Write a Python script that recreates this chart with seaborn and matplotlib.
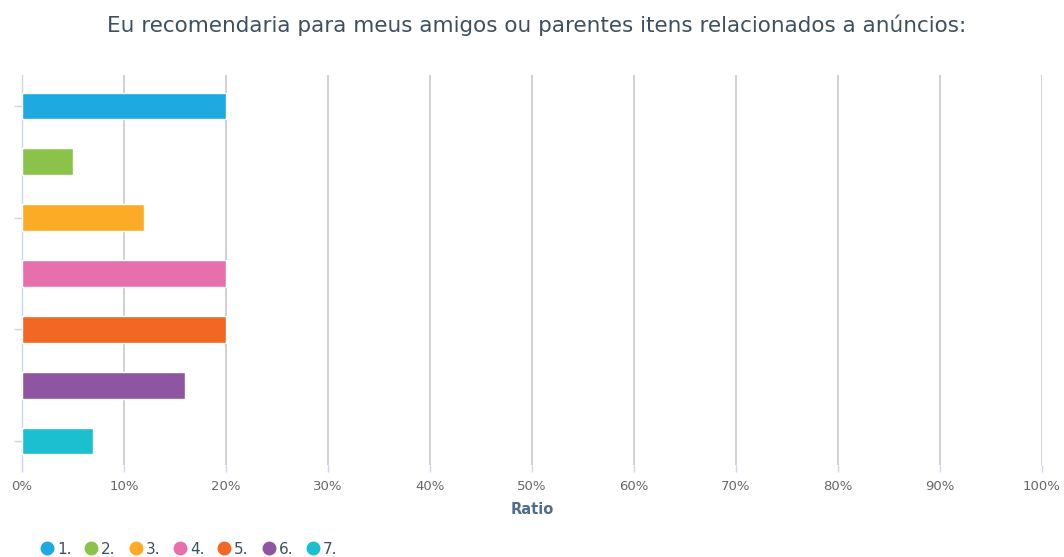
import matplotlib
matplotlib.use("Agg")
import matplotlib.pyplot as plt
import seaborn as sns
import pandas as pd
from matplotlib.lines import Line2D
from matplotlib.ticker import FuncFormatter

categories = ["1.", "2.", "3.", "4.", "5.", "6.", "7."]
values = [20, 5, 12, 20, 20, 16, 7]
colors = ["#1fa9e1", "#8bc34a", "#fbab25", "#e76fab", "#f26724", "#8e56a1", "#1bbfcf"]
xticks = [0, 10, 20, 30, 40, 50, 60, 70, 80, 90, 100]

sns.set_theme(style="white")
plt.rcParams['font.family'] = ['DejaVu Sans']

df = pd.DataFrame({"cat": categories, "val": values})

fig = plt.figure(figsize=(10.64, 5.57), dpi=100)
ax = fig.add_axes([22/1064, 1 - 465/557, (1042-22)/1064, (465-75)/557])

sns.barplot(data=df, y="cat", x="val", hue="cat", palette=colors, orient="h",
            width=0.48, legend=False, ax=ax, zorder=3, saturation=1)

ax.set_xlim(0, 100)
ax.set_ylim(6.43, -0.556)
ax.set_xticks(xticks)
ax.xaxis.set_major_formatter(FuncFormatter(lambda v, p: f"{int(v)}%"))
ax.grid(axis="x", color="#c8c8c8", linewidth=1.2, zorder=0)
ax.set_axisbelow(True)
for s in ["top", "right", "bottom"]:
    ax.spines[s].set_visible(False)
ax.spines["left"].set_color("#ccd6eb")
ax.spines["left"].set_linewidth(1)

ax.set_yticks([0, 2, 4, 6])
ax.set_yticklabels([])
ax.tick_params(axis="y", left=True, length=6, color="#ccd6eb", width=1)
ax.tick_params(axis="x", bottom=True, length=5, color="#ccd6eb", width=1,
               labelsize=9.5, labelcolor="#666666", pad=6)
ax.set_ylabel("")
ax.set_xlabel("Ratio", fontsize=10.5, fontweight="bold", color="#4f6d8f", labelpad=6)

fig.suptitle("Eu recomendaria para meus amigos ou parentes itens relacionados a anúncios:",
             x=537/1064, y=1 - 25/557, va="center", fontsize=15.5, color="#3e5060")

handles = [Line2D([0], [0], marker="o", linestyle="", markersize=9,
                  markerfacecolor=c, markeredgecolor=c) for c in colors]
leg = fig.legend(handles, categories, loc="center left", bbox_to_anchor=(24/1064, 1 - 549/557),
                 ncol=7, frameon=False, handletextpad=0.05, columnspacing=0.7,
                 fontsize=11, labelcolor="#3e5060", handlelength=1.2)

fig.savefig("out.png", dpi=100)
